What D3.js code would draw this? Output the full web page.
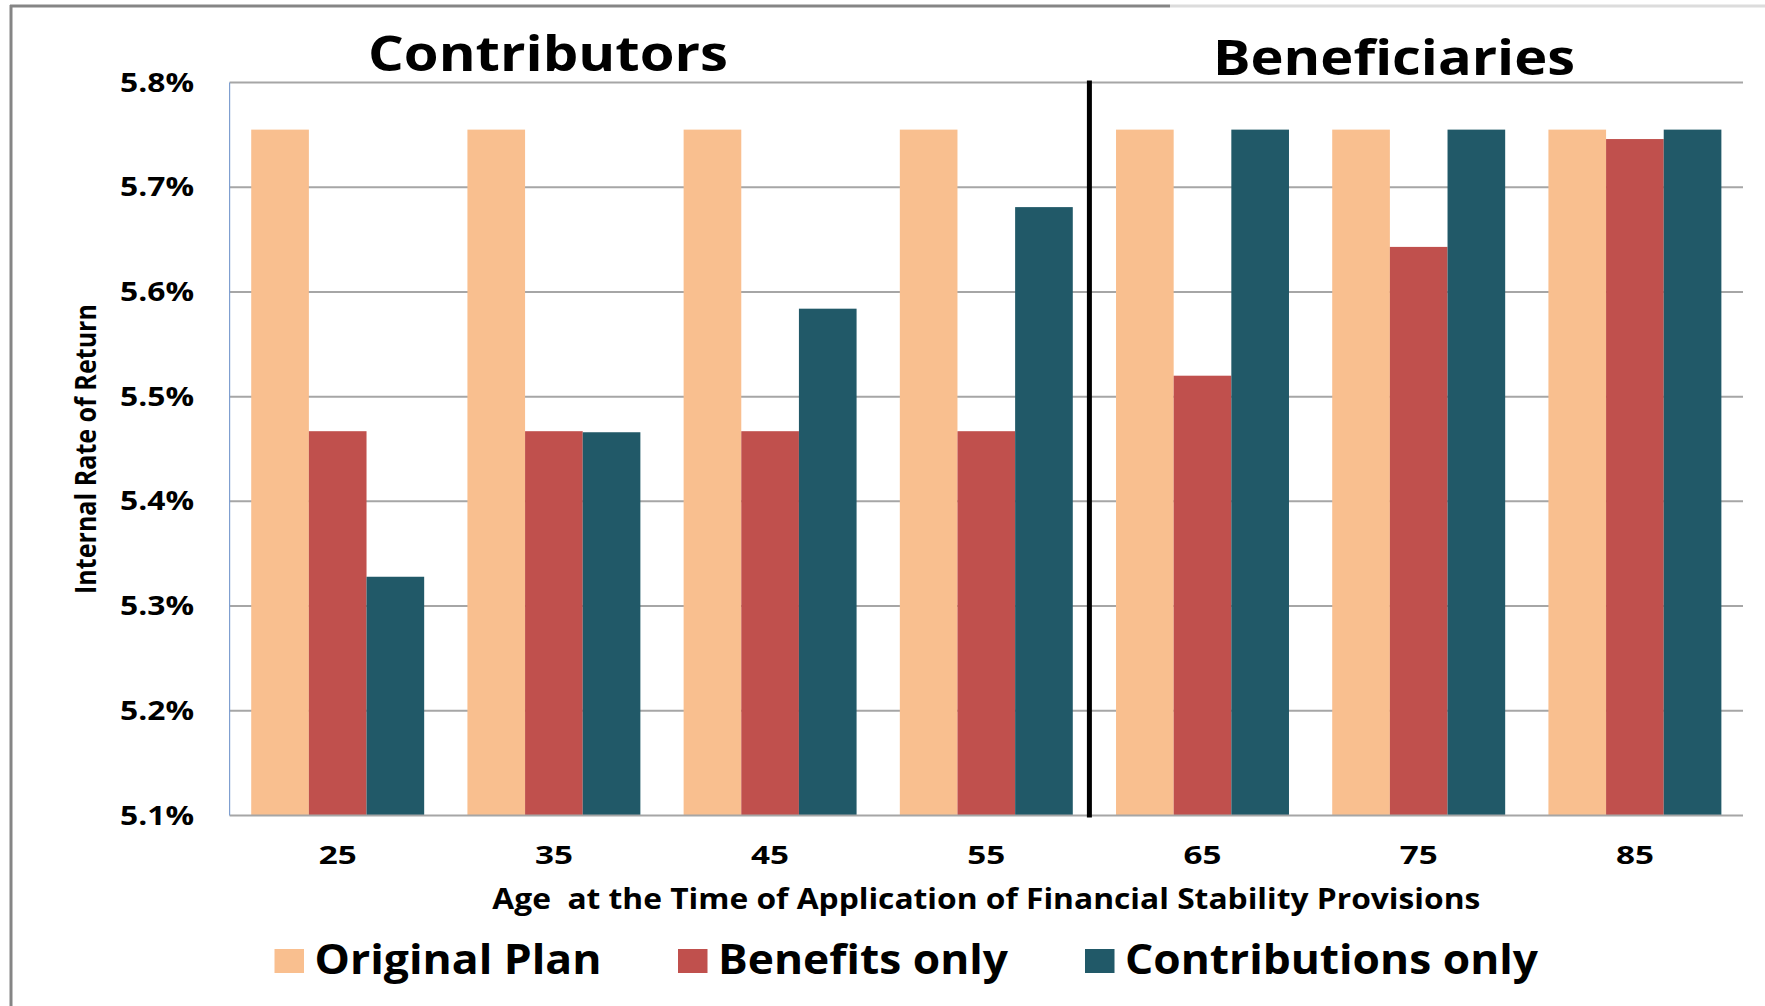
<!DOCTYPE html>
<html>
<head>
<meta charset="utf-8">
<script src="https://cdn.jsdelivr.net/npm/d3@7"></script>
<style>
  html, body { margin: 0; padding: 0; background: #ffffff; }
  svg { display: block; }
  text { font-family: "Open Sans", "DejaVu Sans", sans-serif; font-weight: 700; fill: #000; white-space: pre; }
</style>
</head>
<body>
<svg id="chart" width="1765" height="1006"></svg>
<script>
// Age groups on the x axis
const ages = ["25", "35", "45", "55", "65", "75", "85"];

// Internal rate of return (%) for each scenario
const originalPlan      = [5.755, 5.755, 5.755, 5.755, 5.755, 5.755, 5.755];
const benefitsOnly      = [5.467, 5.467, 5.467, 5.467, 5.520, 5.643, 5.746];
const contributionsOnly = [5.328, 5.466, 5.584, 5.681, 5.755, 5.755, 5.755];

const seriesNames  = ["Original Plan", "Benefits only", "Contributions only"];
const seriesValues = [originalPlan, benefitsOnly, contributionsOnly];
const seriesColors = ["#F9BF8F", "#C0504D", "#215968"];

// Y axis ticks
const yTicks = [5.1, 5.2, 5.3, 5.4, 5.5, 5.6, 5.7, 5.8];
const yTickLabels = ["5.1%", "5.2%", "5.3%", "5.4%", "5.5%", "5.6%", "5.7%", "5.8%"];

const groupTitles = ["Contributors", "Beneficiaries"];
const yTitle = "Internal Rate of Return";
const xTitle = "Age  at the Time of Application of Financial Stability Provisions";

const svg = d3.select("#chart");

// Plot frame
const plot = { left: 229.6, right: 1743, top: 82.5, bottom: 815.5 };

const x = d3.scaleBand()
  .domain(ages)
  .range([plot.left, plot.right])
  .paddingInner(0.2)
  .paddingOuter(0.1);

const xSub = d3.scaleBand()
  .domain(seriesNames)
  .range([0, x.bandwidth()])
  .padding(0);

const y = d3.scaleLinear()
  .domain([5.1, 5.8])
  .range([plot.bottom, plot.top]);

// Outer border of the chart area
svg.append("line")
  .attr("x1", 11).attr("x2", 11).attr("y1", 5).attr("y2", 1006)
  .attr("stroke", "#858585").attr("stroke-width", 3);
svg.append("line")
  .attr("x1", 10).attr("x2", 1170).attr("y1", 6).attr("y2", 6)
  .attr("stroke", "#858585").attr("stroke-width", 3);
svg.append("line")
  .attr("x1", 1170).attr("x2", 1765).attr("y1", 6).attr("y2", 6)
  .attr("stroke", "#dcdcdc").attr("stroke-width", 3);

// Horizontal gridlines
svg.append("g")
  .selectAll("line")
  .data(yTicks.slice(1))
  .join("line")
  .attr("x1", plot.left).attr("x2", plot.right)
  .attr("y1", d => y(d)).attr("y2", d => y(d))
  .attr("stroke", "#a6a6a6").attr("stroke-width", 2);

// Bars
const groups = svg.append("g")
  .selectAll("g")
  .data(ages)
  .join("g")
  .attr("transform", d => `translate(${x(d)},0)`);

groups.selectAll("rect")
  .data((age, i) => seriesNames.map((name, s) => ({ name, value: seriesValues[s][i], color: seriesColors[s] })))
  .join("rect")
  .attr("x", d => xSub(d.name))
  .attr("width", xSub.bandwidth())
  .attr("y", d => y(d.value))
  .attr("height", d => y(5.1) - y(d.value))
  .attr("fill", d => d.color);

// Axis lines
svg.append("line")
  .attr("x1", plot.left).attr("x2", plot.right)
  .attr("y1", plot.bottom).attr("y2", plot.bottom)
  .attr("stroke", "#a6a6a6").attr("stroke-width", 2);
svg.append("line")
  .attr("x1", plot.left).attr("x2", plot.left)
  .attr("y1", plot.top).attr("y2", plot.bottom)
  .attr("stroke", "#7f9fd0").attr("stroke-width", 1.2);

// Y tick labels
svg.append("g")
  .selectAll("text")
  .data(yTicks)
  .join("text")
  .attr("x", 194)
  .attr("y", d => y(d) + 9)
  .attr("text-anchor", "end")
  .attr("font-size", 26)
  .attr("textLength", 74)
  .attr("lengthAdjust", "spacingAndGlyphs")
  .text((d, i) => yTickLabels[i]);

// X tick labels
svg.append("g")
  .selectAll("text")
  .data(ages)
  .join("text")
  .attr("x", d => x(d) + x.bandwidth() / 2)
  .attr("y", 864)
  .attr("text-anchor", "middle")
  .attr("font-size", 25)
  .attr("textLength", 38)
  .attr("lengthAdjust", "spacingAndGlyphs")
  .text(d => d);

// Divider between contributors and beneficiaries
const divX = (x("55") + x.bandwidth() + x("65")) / 2 - 5;
svg.append("line")
  .attr("x1", divX).attr("x2", divX)
  .attr("y1", plot.top - 2).attr("y2", plot.bottom + 2)
  .attr("stroke", "#000").attr("stroke-width", 5);

// Group titles
svg.append("text")
  .attr("x", 548).attr("y", 71)
  .attr("text-anchor", "middle")
  .attr("font-size", 49)
  .attr("textLength", 360)
  .attr("lengthAdjust", "spacingAndGlyphs")
  .text(groupTitles[0]);
svg.append("text")
  .attr("x", 1394).attr("y", 75)
  .attr("text-anchor", "middle")
  .attr("font-size", 49)
  .attr("textLength", 362)
  .attr("lengthAdjust", "spacingAndGlyphs")
  .text(groupTitles[1]);

// Axis titles
svg.append("text")
  .attr("transform", "translate(96,449) rotate(-90)")
  .attr("text-anchor", "middle")
  .attr("font-size", 28)
  .attr("textLength", 290)
  .attr("lengthAdjust", "spacingAndGlyphs")
  .text(yTitle);
svg.append("text")
  .attr("x", (plot.left + plot.right) / 2).attr("y", 909)
  .attr("text-anchor", "middle")
  .attr("font-size", 28)
  .attr("textLength", 988)
  .attr("lengthAdjust", "spacingAndGlyphs")
  .text(xTitle);

// Legend
const legendX = [274.5, 678, 1085];
const legendTextLen = [287, 290, 413];
const legend = svg.append("g")
  .selectAll("g")
  .data(seriesNames)
  .join("g")
  .attr("transform", (d, i) => `translate(${legendX[i]},0)`);
legend.append("rect")
  .attr("x", 0).attr("y", 949)
  .attr("width", 29.5).attr("height", 24)
  .attr("fill", (d, i) => seriesColors[i]);
legend.append("text")
  .attr("x", 40).attr("y", 974)
  .attr("font-size", 41)
  .attr("textLength", (d, i) => legendTextLen[i])
  .attr("lengthAdjust", "spacingAndGlyphs")
  .text(d => d);
</script>
</body>
</html>
